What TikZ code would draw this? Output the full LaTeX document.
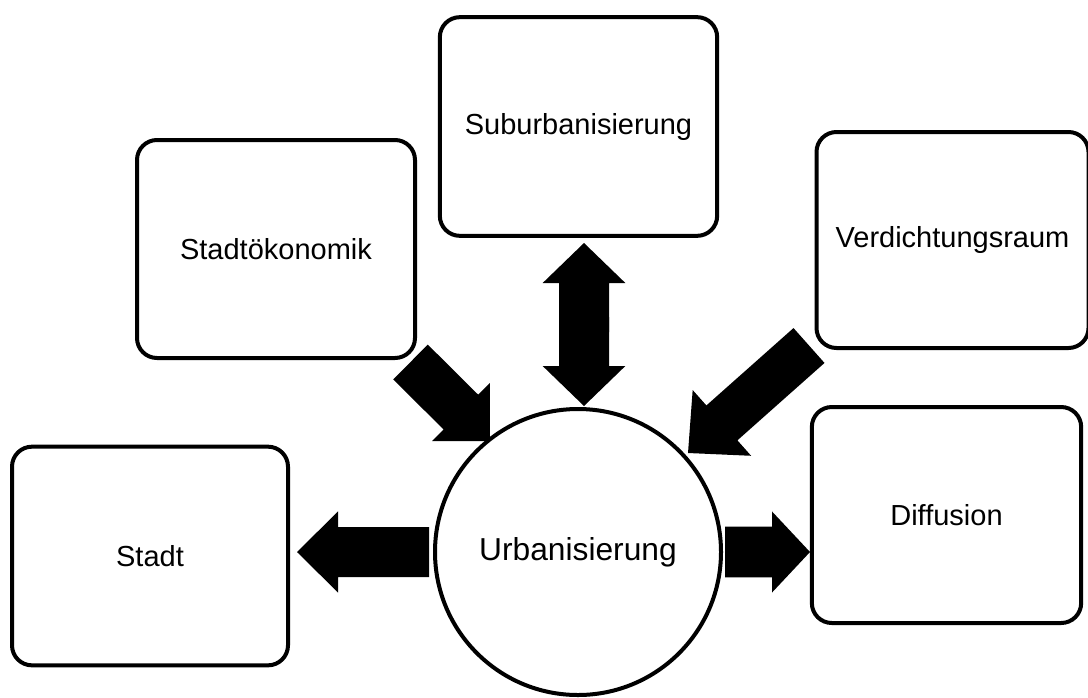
\documentclass[tikz,border=0pt]{standalone}
\usepackage{fontspec}
\setmainfont{Liberation Sans}
\usetikzlibrary{calc}
\tikzset{
  topic/.style={draw=black, line width=3pt, rounded corners=15pt, fill=white,
    inner sep=0pt, align=center, font=\fontsize{21.75}{26}\selectfont},
  hub/.style={draw=black, line width=3pt, circle, fill=white, inner sep=0pt,
    minimum size=214.5pt, font=\fontsize{23.8}{28}\selectfont},
}
% #1 tail, #2 tip, #3 shaft half width, #4 head half width, #5 head length
\newcommand\blockarrow[5]{%
  \path ($(#2)!#5!(#1)$) coordinate (bahead);
  \fill[black] ($(#1)!#3!-90:(#2)$) -- ($(bahead)!#3!-90:(#2)$) -- ($(bahead)!#4!-90:(#2)$)
    -- (#2) -- ($(bahead)!#4!90:(#2)$) -- ($(bahead)!#3!90:(#2)$) -- ($(#1)!#3!90:(#2)$) -- cycle;}
\begin{document}
\begin{tikzpicture}[x=0.75pt, y=-0.75pt]
\useasboundingbox[fill=white] (0,0) rectangle (1088,697);
% boxes
\node[topic, minimum width=208.5pt, minimum height=163.5pt] (oek) at (276,249) {Stadtökonomik};
\node[topic, minimum width=208pt, minimum height=164pt] (sub) at (578.5,126.5) {Suburbanisierung};
\node[topic, minimum width=204pt, minimum height=162pt] (ver) at (952.5,240) {Verdichtungsraum};
\node[topic, minimum width=207pt, minimum height=164pt] (stadt) at (150,556) {Stadt};
\node[topic, minimum width=202pt, minimum height=162pt] (dif) at (946.5,515) {Diffusion};
% hub
\node[hub] (urb) at (578,552) {Urbanisierung};
% arrow anchor points
\coordinate (subtip) at (584,243);
\coordinate (subbot) at (584,406);
\coordinate (subup) at (584,332);
\coordinate (subdown) at (584,317);
\coordinate (oektail) at (410.5,362);
\coordinate (oektip) at (490,441);
\coordinate (vertail) at (809,345.5);
\coordinate (vertip) at (688,453);
\coordinate (stadttail) at (429,552);
\coordinate (stadttip) at (297,552);
\coordinate (diftail) at (725,552);
\coordinate (diftip) at (810,552);
% arrows
\blockarrow{subup}{subtip}{18.75pt}{31pt}{30pt}
\blockarrow{subdown}{subbot}{18.75pt}{31pt}{30pt}
\blockarrow{oektail}{oektip}{18.4pt}{30.75pt}{30.75pt}
\blockarrow{vertail}{vertip}{17.5pt}{33pt}{34pt}
\blockarrow{stadttail}{stadttip}{18.75pt}{30.4pt}{30.75pt}
\blockarrow{diftail}{diftip}{19pt}{30.4pt}{28.5pt}
\end{tikzpicture}
\end{document}
